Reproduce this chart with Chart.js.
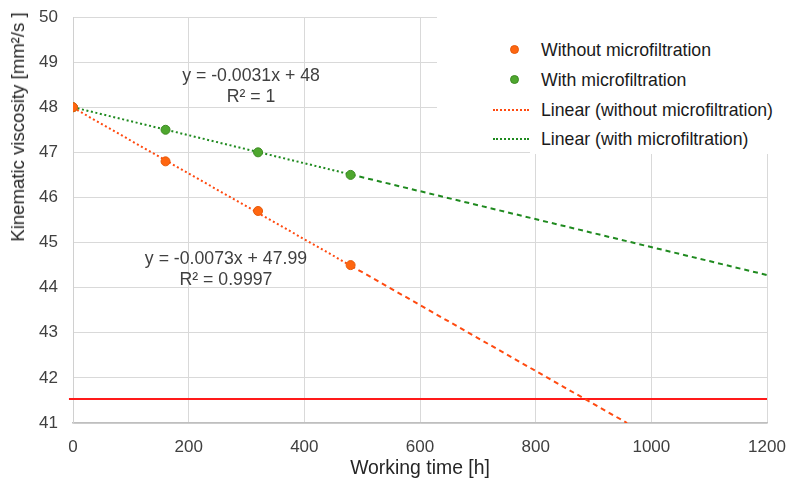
<!DOCTYPE html>
<html>
<head>
<meta charset="utf-8">
<script src="https://cdn.jsdelivr.net/npm/chart.js@4/dist/chart.umd.min.js"></script>
<style>
  body { margin: 0; background: #fff; font-family: "Liberation Sans", Arial, sans-serif; }
  #wrap { position: relative; width: 788px; height: 485px; overflow: hidden; }
  canvas { position: absolute; left: 0; top: 0; }
  .eq { position: absolute; color: #404040; font-size: 17.7px; text-align: center; line-height: 21px; transform: translateX(-50%); white-space: nowrap; }
  #ytitle { position: absolute; left: 18px; top: 127px; transform: translate(-50%, -50%) rotate(-90deg); color: #262626; font-size: 18.6px; white-space: nowrap; }
  #xtitle { position: absolute; left: 420px; top: 467px; transform: translate(-50%, -50%); color: #262626; font-size: 19.4px; white-space: nowrap; }
  .legbox { position: absolute; background: #fff; }
  .leg { position: absolute; left: 493px; height: 20px; font-size: 17.7px; color: #1a1a1a; white-space: nowrap; }
  .leg span.t { position: absolute; left: 48px; top: 0; line-height: 20px; }
  .dot { position: absolute; left: 17px; top: 5px; width: 9px; height: 9px; border-radius: 50%; box-sizing: border-box; }
  .ln { position: absolute; left: 0; top: 9px; width: 36px; height: 0; border-top: 2px dotted; }
</style>
</head>
<body>
<div id="wrap">
  <canvas id="chart" width="788" height="485"></canvas>
  <div class="legbox" style="left:437px;top:0;width:351px;height:148px"></div>
  <div class="legbox" style="left:530px;top:0;width:258px;height:154px"></div>
  <div class="leg" style="top:40px"><div class="dot" style="background:#ff6610;border:1px solid #e55a0a"></div><span class="t">Without microfiltration</span></div>
  <div class="leg" style="top:70px"><div class="dot" style="background:#4ea72e;border:1px solid #3c8a22"></div><span class="t">With microfiltration</span></div>
  <div class="leg" style="top:100px"><div class="ln" style="border-color:#ff4a10"></div><span class="t">Linear (without microfiltration)</span></div>
  <div class="leg" style="top:129px"><div class="ln" style="border-color:#1f8a1f"></div><span class="t">Linear (with microfiltration)</span></div>
  <div class="eq" style="left:251px;top:65px">y = -0.0031x + 48<br>R² = 1</div>
  <div class="eq" style="left:226px;top:248px">y = -0.0073x + 47.99<br>R² = 0.9997</div>
  <div id="ytitle">Kinematic viscosity [mm²/s ]</div>
  <div id="xtitle">Working time [h]</div>
</div>
<script>
// measured points
const hours = [0, 160, 320, 480];
const withoutMF = [48, 46.8, 45.7, 44.5];
const withMF = [48, 47.5, 47.0, 46.5];

// trendlines: fitted range then forecast
const trendWithoutX = [0, 480, 958];
const trendWithoutY = [47.99, 44.49, 41.0];
const trendWithX = [0, 480, 1200];
const trendWithY = [48, 46.51, 44.28];

// limit line
const limitX = [-7, 1200];
const limitY = [41.53, 41.53];

const toPts = (xs, ys) => xs.map((x, i) => ({ x: x, y: ys[i] }));

// dotted inside data range, dashed for forecast
const trendDash = ctx => ctx.p0DataIndex >= 1 ? [5, 4] : [2, 2.6];

const ctx = document.getElementById('chart').getContext('2d');
new Chart(ctx, {
  type: 'line',
  data: {
    datasets: [
      {
        label: 'Without microfiltration',
        data: toPts(hours, withoutMF),
        showLine: false,
        pointRadius: 4.5,
        pointBackgroundColor: '#ff6610',
        pointBorderColor: '#e55a0a',
        pointBorderWidth: 1
      },
      {
        label: 'With microfiltration',
        data: toPts(hours, withMF),
        showLine: false,
        pointRadius: 4.5,
        pointBackgroundColor: '#4ea72e',
        pointBorderColor: '#3c8a22',
        pointBorderWidth: 1
      },
      {
        label: 'Linear (without microfiltration)',
        data: toPts(trendWithoutX, trendWithoutY),
        borderColor: '#ff4a10',
        borderWidth: 2,
        pointRadius: 0,
        segment: { borderDash: trendDash }
      },
      {
        label: 'Linear (with microfiltration)',
        data: toPts(trendWithX, trendWithY),
        borderColor: '#1f8a1f',
        borderWidth: 2,
        pointRadius: 0,
        segment: { borderDash: trendDash }
      },
      {
        label: 'Limit',
        data: toPts(limitX, limitY),
        borderColor: '#ff1a1a',
        borderWidth: 2,
        pointRadius: 0,
        clip: { left: 6, top: 0, right: 0, bottom: 0 }
      }
    ]
  },
  options: {
    responsive: false,
    animation: false,
    layout: { padding: { top: 17, right: 21, left: 0, bottom: 0 } },
    plugins: { legend: { display: false }, tooltip: { enabled: false } },
    scales: {
      x: {
        type: 'linear',
        min: 0,
        max: 1200,
        ticks: {
          stepSize: 200, color: '#404040', padding: 14,
          font: { family: 'Liberation Sans', size: 17 },
          callback: v => String(v)
        },
        grid: { color: '#d9d9d9', drawTicks: false },
        border: { color: '#bfbfbf', width: 1.5 },
        afterFit: s => { s.height = 62; s.paddingLeft = 0; s.paddingRight = 0; }
      },
      y: {
        min: 41,
        max: 50,
        ticks: { stepSize: 1, color: '#404040', font: { family: 'Liberation Sans', size: 17 }, padding: 15 },
        grid: { color: '#d9d9d9', drawTicks: false },
        border: { color: '#d0d0d0' },
        afterFit: s => { s.width = 73; s.paddingTop = 0; s.paddingBottom = 0; }
      }
    }
  }
});
</script>
</body>
</html>
